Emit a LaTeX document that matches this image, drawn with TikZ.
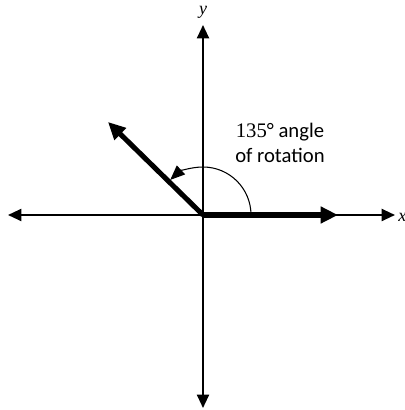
\documentclass[tikz,border=0pt]{standalone}
\usepackage{fontspec}
\setmainfont{Carlito}
\newfontfamily\axisfont{Liberation Serif}
\usetikzlibrary{arrows.meta}

\begin{document}
\begin{tikzpicture}[
		x=0.75pt, y=0.75pt,
		axis/.style={line width=1.5pt, {Triangle[length=10pt,width=9pt]}-{Triangle[length=10pt,width=9pt]}},
		vector/.style={line width=3.8pt, -{Triangle[length=13pt,width=12pt]}},
		arcline/.style={line width=0.8pt, -{Triangle[length=11pt,width=9pt]}},
		axislabel/.style={font=\axisfont\fontsize{13.5}{15}\selectfont\itshape, inner sep=0pt},
		anglelabel/.style={font=\fontsize{15.5}{18.75}\selectfont, align=center, inner sep=0pt}
	]
		\useasboundingbox (0,0) rectangle (404,410);

		% axes
		\coordinate (origin) at (203,195);
		\coordinate (xleft) at (8,195);
		\coordinate (xright) at (395,195);
		\coordinate (ytop) at (203,385);
		\coordinate (ybottom) at (203,2);
		\draw[axis] (xleft) -- (xright);
		\draw[axis] (ybottom) -- (ytop);
		\node[axislabel] (ylabel) at (203,398) {y};
		\node[axislabel, anchor=west] (xlabel) at (398,193) {x};

		% initial and rotated vectors
		\coordinate (initialtip) at (338,195);
		\coordinate (rotatedtip) at (108,288);
		\draw[vector] (origin) -- (initialtip);
		\draw[vector] (origin) -- (rotatedtip);

		% angle of rotation
		\draw[arcline] (251,195) arc[start angle=0, end angle=133, radius=48];
		\node[anglelabel] (rotation) at (280,267) {{\axisfont 135}° angle\\of rotation};
	\end{tikzpicture}
\end{document}
